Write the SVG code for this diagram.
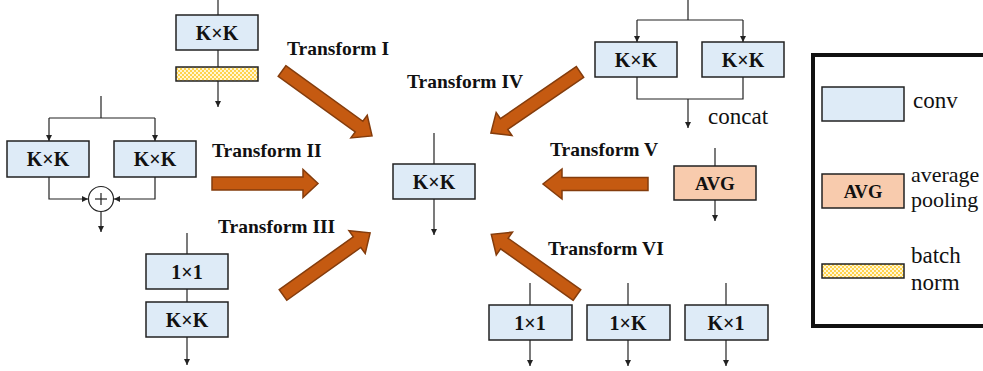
<svg xmlns="http://www.w3.org/2000/svg" width="983" height="371" viewBox="0 0 983 371">
<style>
.conv{fill:#deebf7;stroke:#222;stroke-width:1.5}
.avg{fill:#f8cbad;stroke:#222;stroke-width:1.5}
.bn{fill:url(#chk);stroke:#222;stroke-width:1.5}
.lbl{font-family:"Liberation Serif",serif;font-weight:bold;font-size:20px;text-anchor:middle;fill:#111}
.tr{font-family:"Liberation Serif",serif;font-weight:bold;font-size:19.5px;fill:#111}
.leg{font-family:"Liberation Serif",serif;font-size:23px;fill:#111}
.ln{fill:none;stroke:#222;stroke-width:1.2}
.ar{fill:none;stroke:#222;stroke-width:1.2;marker-end:url(#ah)}
.big{fill:#c55a11;stroke:#843c0c;stroke-width:1.5}
</style>
<defs>
<marker id="ah" viewBox="0 0 10 10" refX="10" refY="5" markerWidth="6" markerHeight="6" markerUnits="userSpaceOnUse" orient="auto">
<path d="M0,0 L10,5 L0,10 z" fill="#222"/>
</marker>
<pattern id="chk" width="4" height="4" patternUnits="userSpaceOnUse">
<rect width="4" height="4" fill="#fff6d5"/>
<rect width="2" height="2" fill="#ffd34d"/>
<rect x="2" y="2" width="2" height="2" fill="#ffd34d"/>
</pattern>
</defs>

<g id="connectors">
<line class="ln" x1="218" y1="0" x2="218" y2="15"/>
<line class="ln" x1="218" y1="50" x2="218" y2="67"/>
<line class="ar" x1="218" y1="81" x2="218" y2="107"/>
<line class="ln" x1="101" y1="96" x2="101" y2="118"/>
<line class="ln" x1="49" y1="118" x2="155" y2="118"/>
<line class="ar" x1="49" y1="118" x2="49" y2="141"/>
<line class="ar" x1="155" y1="118" x2="155" y2="141"/>
<polyline class="ar" points="49,177 49,199 88,199"/>
<polyline class="ar" points="155,177 155,199 114,199"/>
<line class="ar" x1="101" y1="212" x2="101" y2="232"/>
<line class="ln" x1="187" y1="233" x2="187" y2="254"/>
<line class="ln" x1="187" y1="289" x2="187" y2="302"/>
<line class="ar" x1="187" y1="337" x2="187" y2="365"/>
<line class="ln" x1="434" y1="133" x2="434" y2="164"/>
<line class="ar" x1="434" y1="199" x2="434" y2="235"/>
<line class="ln" x1="688" y1="0" x2="688" y2="20"/>
<line class="ln" x1="637" y1="20" x2="743" y2="20"/>
<line class="ar" x1="637" y1="20" x2="637" y2="42"/>
<line class="ar" x1="743" y1="20" x2="743" y2="42"/>
<polyline class="ln" points="637,77 637,99 743,99 743,77"/>
<line class="ar" x1="688" y1="99" x2="688" y2="128"/>
<line class="ln" x1="715" y1="148" x2="715" y2="166"/>
<line class="ar" x1="715" y1="200" x2="715" y2="221"/>
<line class="ln" x1="530" y1="283" x2="530" y2="305"/>
<line class="ar" x1="530" y1="340" x2="530" y2="366"/>
<line class="ln" x1="628" y1="283" x2="628" y2="305"/>
<line class="ar" x1="628" y1="340" x2="628" y2="366"/>
<line class="ln" x1="726" y1="283" x2="726" y2="305"/>
<line class="ar" x1="726" y1="340" x2="726" y2="366"/>
</g>

<g id="node-t1">
<rect class="conv" x="176" y="15" width="82" height="35"/>
<text class="lbl" x="217" y="39.5">K×K</text>
<rect class="bn" x="176" y="67" width="82" height="14"/>
</g>

<g id="node-t2">
<rect class="conv" x="7" y="141" width="82" height="36"/>
<text class="lbl" x="48" y="166">K×K</text>
<rect class="conv" x="114" y="141" width="82" height="36"/>
<text class="lbl" x="155" y="166">K×K</text>
<circle cx="101" cy="199" r="12.5" fill="#fff" stroke="#222" stroke-width="1.2"/>
<line class="ln" x1="95" y1="199" x2="107" y2="199"/>
<line class="ln" x1="101" y1="193" x2="101" y2="205"/>
</g>

<g id="node-t3">
<rect class="conv" x="146" y="254" width="82" height="35"/>
<text class="lbl" x="187" y="278.5">1×1</text>
<rect class="conv" x="146" y="302" width="82" height="35"/>
<text class="lbl" x="187" y="326.5">K×K</text>
</g>

<g id="node-center">
<rect class="conv" x="393" y="164" width="82" height="35"/>
<text class="lbl" x="434" y="188.5">K×K</text>
</g>

<g id="node-t4">
<rect class="conv" x="595" y="42" width="82" height="35"/>
<text class="lbl" x="636" y="66.5">K×K</text>
<rect class="conv" x="702" y="42" width="82" height="35"/>
<text class="lbl" x="743" y="66.5">K×K</text>
<text class="leg" x="708" y="124">concat</text>
</g>

<g id="node-t5">
<rect class="avg" x="674" y="166" width="82" height="34"/>
<text class="lbl" x="715" y="190" style="font-size:19px">AVG</text>
</g>

<g id="node-t6">
<rect class="conv" x="489" y="305" width="83" height="35"/>
<text class="lbl" x="530" y="329.5">1×1</text>
<rect class="conv" x="587" y="305" width="83" height="35"/>
<text class="lbl" x="628" y="329.5">1×K</text>
<rect class="conv" x="685" y="305" width="83" height="35"/>
<text class="lbl" x="726" y="329.5">K×1</text>
</g>

<g id="transforms">
<path class="big" transform="translate(282,71) rotate(35.8)" d="M0,-6.5 L95,-6.5 L95,-14 L111,0 L95,14 L95,6.5 L0,6.5 Z"/>
<text class="tr" x="287" y="55">Transform I</text>
<path class="big" transform="translate(212,183.5)" d="M0,-6.5 L91,-6.5 L91,-14 L106,0 L91,14 L91,6.5 L0,6.5 Z"/>
<text class="tr" x="212" y="157">Transform II</text>
<path class="big" transform="translate(283,295) rotate(-35.5)" d="M0,-6.5 L91,-6.5 L91,-14 L107,0 L91,14 L91,6.5 L0,6.5 Z"/>
<text class="tr" x="218" y="233">Transform III</text>
<path class="big" transform="translate(580,72) rotate(145.6)" d="M0,-6.5 L92,-6.5 L92,-14 L108,0 L92,14 L92,6.5 L0,6.5 Z"/>
<text class="tr" x="407" y="88">Transform IV</text>
<path class="big" transform="translate(648,184) rotate(180)" d="M0,-6.5 L86,-6.5 L86,-15 L105,0 L86,15 L86,6.5 L0,6.5 Z"/>
<text class="tr" x="550" y="156">Transform V</text>
<path class="big" transform="translate(577,295) rotate(-144.7)" d="M0,-6.5 L89,-6.5 L89,-14 L105,0 L89,14 L89,6.5 L0,6.5 Z"/>
<text class="tr" x="548" y="255">Transform VI</text>
</g>

<g id="legend">
<rect x="813" y="55" width="176" height="271" fill="#fff" stroke="#111" stroke-width="4"/>
<rect class="conv" x="822" y="87" width="82" height="34"/>
<text class="leg" x="913" y="108">conv</text>
<rect class="avg" x="822" y="174" width="82" height="34"/>
<text class="lbl" x="863" y="197.5" style="font-size:18.5px">AVG</text>
<text class="leg" x="911" y="182" style="font-size:22px">average</text>
<text class="leg" x="911" y="207" style="font-size:22px">pooling</text>
<rect class="bn" x="822" y="264" width="82" height="14"/>
<text class="leg" x="911" y="263">batch</text>
<text class="leg" x="911" y="290">norm</text>
</g>
</svg>
